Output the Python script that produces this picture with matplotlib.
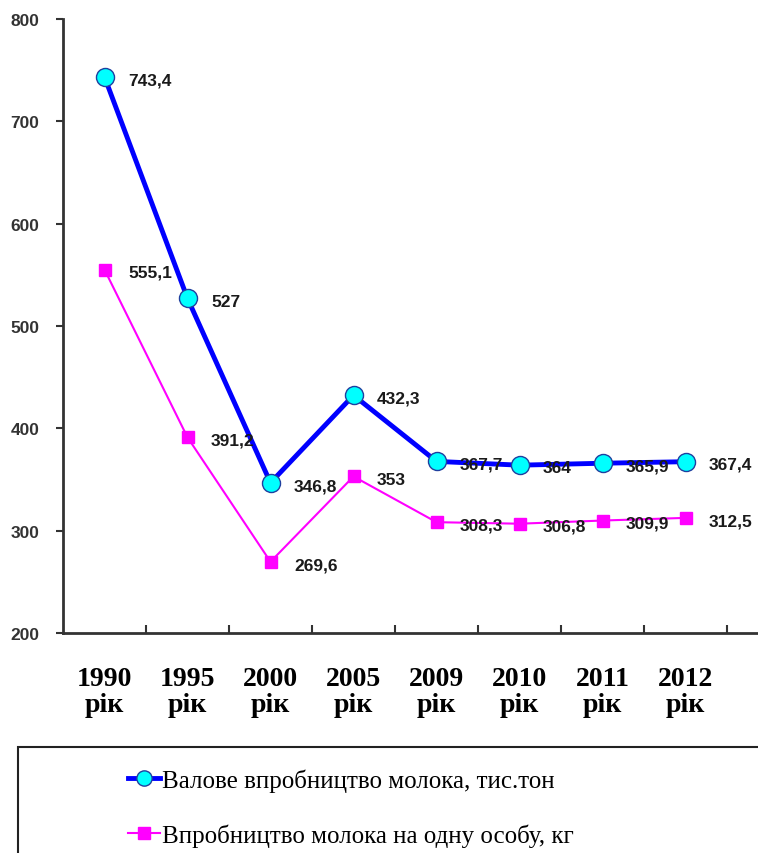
import matplotlib
matplotlib.use("Agg")
import matplotlib.pyplot as plt
from matplotlib.lines import Line2D
from matplotlib.patches import Rectangle

categories = ["1990\nрік", "1995\nрік", "2000\nрік", "2005\nрік",
              "2009\nрік", "2010\nрік", "2011\nрік", "2012\nрік"]
gross = [743.4, 527, 346.8, 432.3, 367.7, 364, 365.9, 367.4]
per_capita = [555.1, 391.2, 269.6, 353, 308.3, 306.8, 309.9, 312.5]
gross_labels = ["743,4", "527", "346,8", "432,3", "367,7", "364", "365,9", "367,4"]
per_labels = ["555,1", "391,2", "269,6", "353", "308,3", "306,8", "309,9", "312,5"]
legend_labels = ["Валове впробництво молока, тис.тон",
                 "Впробництво молока на одну особу, кг"]
yticks = [200, 300, 400, 500, 600, 700, 800]

W, H = 758, 854
fig = plt.figure(figsize=(W/100, H/100), dpi=100)
ax = fig.add_axes([63/W, 1-634/H, (W-63)/W, (634-20)/H])

x = list(range(len(categories)))
ax.plot(x, per_capita, color="#FF00FF", lw=1.5, marker="s", ms=9,
        mfc="#FF00FF", mec="#FF00FF", zorder=3)
ax.plot(x, gross, color="#0000FF", lw=3.5, marker="o", ms=13,
        mfc="#00FFFF", mec="#1F3F9F", mew=1, zorder=4)

for xi, v, t in zip(x, gross, gross_labels):
    ax.annotate(t, (xi, v), xytext=(17, -2), textcoords="offset points",
                ha="left", va="center", fontsize=12.5, fontweight="bold",
                color="#1a1a1a", family="Liberation Sans", zorder=5)
for xi, v, t in zip(x, per_capita, per_labels):
    ax.annotate(t, (xi, v), xytext=(17, -2), textcoords="offset points",
                ha="left", va="center", fontsize=12.5, fontweight="bold",
                color="#1a1a1a", family="Liberation Sans", zorder=5)

ax.set_ylim(200, 800)
ax.set_xlim(-0.5, (W-63)/83 - 0.5)
ax.set_yticks(yticks)
ax.set_yticklabels([str(v) for v in yticks], fontsize=12.5, fontweight="bold",
                   color="#333333", family="Liberation Sans")
ax.set_xticks([i + 0.5 for i in x])
ax.set_xticks(x, minor=True)
ax.set_xticklabels([])
ax.set_xticklabels(categories, minor=True, fontsize=20, fontweight="bold",
                   family="Liberation Serif", linespacing=1.05)
ax.tick_params(axis="x", which="minor", length=0, pad=24)
ax.tick_params(axis="x", which="major", direction="in", length=6, width=1.5,
               color="#333333")
ax.tick_params(axis="y", direction="out", length=5, width=1.5, color="#333333", pad=12)

for s in ["top", "right"]:
    ax.spines[s].set_visible(False)
for s in ["left", "bottom"]:
    ax.spines[s].set_linewidth(2)
    ax.spines[s].set_color("#333333")

fig.patches.append(Rectangle((18/W, -0.2), 1.2, 0.2 + 1 - 748/H,
                             transform=fig.transFigure, fill=False,
                             edgecolor="#222222", lw=1.5))

handles = [
    Line2D([], [], color="#0000FF", lw=3.5, marker="o", ms=11,
           mfc="#00FFFF", mec="#1F3F9F"),
    Line2D([], [], color="#FF00FF", lw=1.5, marker="s", ms=8,
           mfc="#FF00FF", mec="#FF00FF"),
]
fig.legend(handles, legend_labels, loc="upper left",
           bbox_to_anchor=(110/W, 1-752/H), frameon=False,
           prop={"family": "Liberation Serif", "size": 18},
           labelspacing=1.25, handlelength=1.3, handletextpad=0.1,
           borderpad=0.2)

fig.savefig("out.png", dpi=100)
